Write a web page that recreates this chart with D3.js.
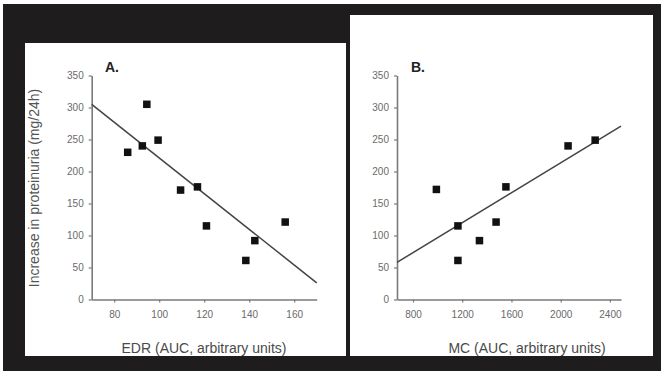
<!DOCTYPE html>
<html><head><meta charset="utf-8">
<script src="https://cdn.jsdelivr.net/npm/d3@7"></script>
<style>html,body{margin:0;padding:0;background:#fff;}svg{display:block;}</style>
</head><body>
<script>
// ---- data ----
const edrValues = [86, 92.5, 94.5, 99.5, 109.5, 117, 121, 138.5, 142.5, 156];
const proteinuriaA = [230, 240, 305, 249, 171, 176, 115, 61, 92, 121];
const mcValues = [990, 1165, 1165, 1340, 1475, 1555, 2060, 2280];
const proteinuriaB = [172, 115, 61, 92, 121, 176, 240, 249];
const fitLineA = [[70, 305], [170, 26]];
const fitLineB = [[670, 58], [2490, 271]];
const yTicks = [0, 50, 100, 150, 200, 250, 300, 350];
const xTicksA = [80, 100, 120, 140, 160];
const xTicksB = [800, 1200, 1600, 2000, 2400];
const yTitle = "Increase in proteinuria (mg/24h)";
const xTitleA = "EDR (AUC, arbitrary units)";
const xTitleB = "MC (AUC, arbitrary units)";

const W = 661, H = 371;
const font = "'Liberation Sans', Arial, Helvetica, sans-serif";
const svg = d3.select("body").append("svg").attr("width", W).attr("height", H);

// background frame
svg.append("rect").attr("x", 0).attr("y", 0).attr("width", W).attr("height", H).attr("fill", "#fff");
svg.append("rect").attr("x", 3).attr("y", 4).attr("width", W - 3).attr("height", H - 4).attr("fill", "#1f1c1d");
// panels
svg.append("rect").attr("x", 25).attr("y", 43).attr("width", 321).attr("height", 313).attr("fill", "#fff");
svg.append("rect").attr("x", 350).attr("y", 15).attr("width", 303).attr("height", 341).attr("fill", "#fff");

function panel(opts) {
  const g = svg.append("g");
  const x = d3.scaleLinear().domain(opts.xDomain).range(opts.xRange);
  const y = d3.scaleLinear().domain([0, 350]).range([299.5, 75.5]);
  const axisColor = "#7a7a7a";
  // y axis
  const ya = g.append("g").attr("transform", `translate(${opts.xRange[0]},0)`)
    .call(d3.axisLeft(y).tickValues(yTicks).tickFormat(d3.format("d")).tickSize(3).tickPadding(5).tickSizeOuter(0));
  // x axis
  const xa = g.append("g").attr("transform", `translate(0,${y(0)})`)
    .call(d3.axisBottom(x).tickValues(opts.xTicks).tickFormat(d3.format("d")).tickSize(3).tickPadding(8).tickSizeOuter(0));
  [ya, xa].forEach(a => {
    a.select(".domain").attr("stroke", axisColor).attr("stroke-width", 1.6);
    a.selectAll(".tick line").attr("stroke", axisColor).attr("stroke-width", 1.2);
    a.selectAll(".tick text").attr("fill", "#6a6a6a").style("font-family", font).style("font-size", "10px");
  });
  // fit line
  g.append("path").datum(opts.line)
    .attr("d", d3.line().x(d => x(d[0])).y(d => y(d[1])))
    .attr("stroke", "#444").attr("stroke-width", 1.5).attr("fill", "none");
  // points
  const s = 7.5;
  g.selectAll("rect.pt").data(opts.xs.map((v, i) => [v, opts.ys[i]])).enter()
    .append("rect").attr("class", "pt")
    .attr("x", d => x(d[0]) - s / 2).attr("y", d => y(d[1]) - s / 2)
    .attr("width", s).attr("height", s).attr("fill", "#111");
  // panel label
  g.append("text").attr("x", opts.labelX).attr("y", 72).text(opts.label)
    .attr("fill", "#222").style("font-family", font).style("font-size", "14px").style("font-weight", "bold");
  // x title
  g.append("text").attr("x", opts.titleX).attr("y", 353).attr("text-anchor", "middle")
    .text(opts.xTitle).attr("fill", "#4a4a4a").style("font-family", font).style("font-size", "14px");
}

panel({xDomain: [70, 170], xRange: [91.7, 316.7], xTicks: xTicksA, line: fitLineA,
  xs: edrValues, ys: proteinuriaA, label: "A.", labelX: 105, xTitle: xTitleA, titleX: 204});
panel({xDomain: [670, 2490], xRange: [397, 621], xTicks: xTicksB, line: fitLineB,
  xs: mcValues, ys: proteinuriaB, label: "B.", labelX: 411, xTitle: xTitleB, titleX: 527});

// y title (panel A)
svg.append("text").attr("transform", "translate(35,188) rotate(-90)")
  .attr("text-anchor", "middle").attr("dominant-baseline", "middle")
  .text(yTitle).attr("fill", "#555").style("font-family", font).style("font-size", "14px");
</script>
</body></html>
